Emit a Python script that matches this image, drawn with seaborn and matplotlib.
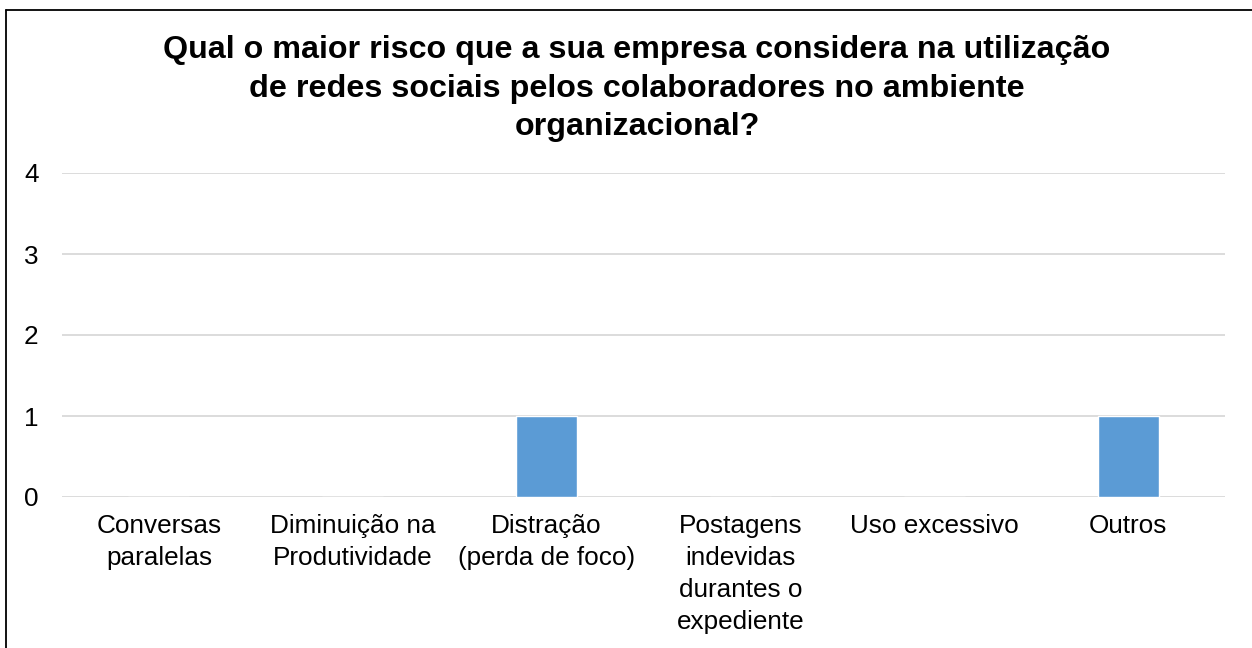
import matplotlib
matplotlib.use("Agg")
import matplotlib.pyplot as plt
import seaborn as sns
import pandas as pd
from matplotlib.lines import Line2D

categories = ["Conversas\nparalelas", "Diminuição na\nProdutividade", "Distração\n(perda de foco)",
              "Postagens\nindevidas\ndurantes o\nexpediente", "Uso excessivo", "Outros"]
values = [0, 0, 1, 0, 0, 1]
yticks = [0, 1, 2, 3, 4]
title = "Qual o maior risco que a sua empresa considera na utilização\nde redes sociais pelos colaboradores no ambiente\norganizacional?"

sns.set_theme(style="white")
plt.rcParams['font.family'] = ['Liberation Sans', 'DejaVu Sans']

W, H = 1252, 648
fig = plt.figure(figsize=(W/100, H/100), dpi=100)
ax = fig.add_axes([62/W, 1-497/H, (1225-62)/W, (497-173)/H])

df = pd.DataFrame({"cat": categories, "val": values})
sns.barplot(data=df, x="cat", y="val", color="#5B9BD5", saturation=1, width=0.315, ax=ax)

ax.set_ylim(0, 4)
ax.set_yticks(yticks)
ax.set_xlim(-0.5, len(categories)-0.5)
ax.yaxis.grid(True, color="#D9D9D9", linewidth=1.3)
ax.set_axisbelow(True)
for s in ax.spines.values():
    s.set_visible(False)
ax.tick_params(axis="both", length=0, labelsize=18.8, colors="black")
ax.tick_params(axis="y", pad=17)
ax.tick_params(axis="x", pad=12.5)
for lbl in ax.get_xticklabels():
    lbl.set_linespacing(1.42)
ax.set_xlabel("")
ax.set_ylabel("")

fig.text(637/W, 1-35/H, title, ha="center", va="top", fontsize=23.2, fontweight="bold",
         linespacing=1.37, color="black")

fig.add_artist(Line2D([6/W, 6/W], [0, 1-10/H], transform=fig.transFigure, color="black", linewidth=1.3))
fig.add_artist(Line2D([6/W, 1], [1-10/H, 1-10/H], transform=fig.transFigure, color="black", linewidth=1.3))

fig.savefig("out.png", dpi=100, facecolor="white")
